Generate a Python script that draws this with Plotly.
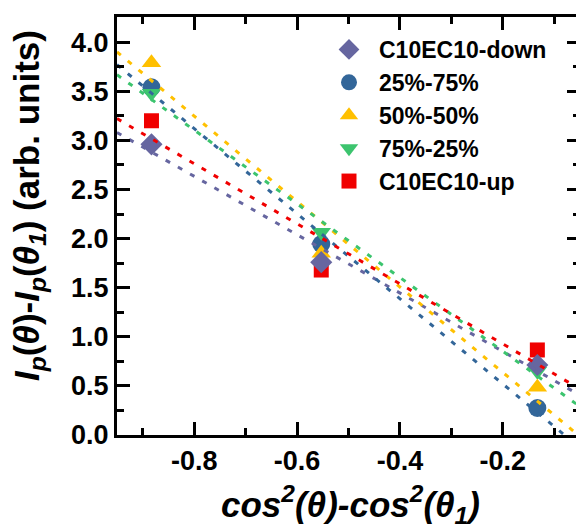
import numpy as np
import plotly.graph_objects as go

# ---- data ----
x_vals = [-0.883, -0.553, -0.133]
names = ["C10EC10-down", "25%-75%", "50%-50%", "75%-25%", "C10EC10-up"]
down_vals = [2.96, 1.76, 0.713]
p25_vals = [3.54, 1.945, 0.275]
p50_vals = [3.79, 1.85, 0.487]
p75_vals = [3.48, 2.065, 0.65]
up_vals = [3.20, 1.68, 0.866]
fit_span = [-0.95, -0.05]
x_tick_vals = [-0.8, -0.6, -0.4, -0.2]
x_tick_text = ["-0.8", "-0.6", "-0.4", "-0.2"]

colors = {"C10EC10-down": "#6666A0", "25%-75%": "#336699", "50%-50%": "#FFC000",
          "75%-25%": "#3CC46E", "C10EC10-up": "#F00000"}
symbols = {"C10EC10-down": "diamond", "25%-75%": "circle", "50%-50%": "triangle-up",
           "75%-25%": "triangle-down", "C10EC10-up": "square"}
sizes = {"C10EC10-down": 17, "25%-75%": 18, "50%-50%": 17, "75%-25%": 17, "C10EC10-up": 15}
values = {"C10EC10-down": down_vals, "25%-75%": p25_vals, "50%-50%": p50_vals,
          "75%-25%": p75_vals, "C10EC10-up": up_vals}
legend_rank = {n: i for i, n in enumerate(names)}
draw_order = ["25%-75%", "75%-25%", "50%-50%", "C10EC10-up", "C10EC10-down"]

FONT = "Liberation Sans, Arial"
fig = go.Figure()

for n in draw_order:
    fig.add_trace(go.Scatter(
        x=x_vals, y=values[n], mode="markers", name=n,
        legendrank=legend_rank[n] + 1,
        marker=dict(symbol=symbols[n], size=sizes[n], color=colors[n], line=dict(width=0)),
    ))

for n in names:
    k, b = np.polyfit(x_vals, values[n], 1)
    fx = np.array(fit_span)
    fig.add_trace(go.Scatter(
        x=fx, y=k * fx + b, mode="lines", showlegend=False, hoverinfo="skip",
        line=dict(color=colors[n], width=3, dash="5px,9px"),
    ))

# dummy trace for right-side ticks
fig.add_trace(go.Scatter(x=[None], y=[None], yaxis="y2", showlegend=False))

L, R, T, B = 117, 0, 17, 89
W, H = 576, 524
pw = W - L - R
ph = H - T - B

def px_x(p):
    return (p - L) / pw

def px_y(p):
    return (H - B - p) / ph

axis_common = dict(
    showgrid=False, zeroline=False, showline=True, linecolor="black", linewidth=3,
    ticks="inside", ticklen=13, tickwidth=3, tickcolor="black",
    tickfont=dict(family=FONT, size=27, color="black", weight="bold"),
)

fig.update_layout(
    width=W, height=H,
    margin=dict(l=L, r=R, t=T, b=B, pad=0),
    paper_bgcolor="white", plot_bgcolor="white",
    showlegend=True,
    legend=dict(
        x=px_x(319), y=px_y(28), xanchor="left", yanchor="top",
        font=dict(family=FONT, size=23, color="black", weight="bold"),
        bgcolor="rgba(0,0,0,0)", borderwidth=0, itemsizing="trace", itemwidth=50,
        tracegroupgap=0,
    ),
    xaxis=dict(
        range=[-0.95, -0.95 + pw / 514.5], tickvals=x_tick_vals, ticktext=x_tick_text,
        mirror="ticks",
        minor=dict(ticks="inside", ticklen=7, tickwidth=3, tickcolor="black", dtick=0.1, tick0=0),
        **axis_common,
    ),
    yaxis=dict(
        range=[0, ph / 98.2], dtick=0.5, tick0=0, tickformat=".1f", mirror=False,
        minor=dict(ticks="inside", ticklen=7, tickwidth=3, tickcolor="black", dtick=0.25, tick0=0),
        **axis_common,
    ),
    yaxis2=dict(
        overlaying="y", side="right", matches="y", showgrid=False, zeroline=False,
        showline=False, showticklabels=False, ticks="inside", ticklen=9, tickwidth=3,
        tickcolor="black", dtick=0.5, tick0=0,
        minor=dict(ticks="inside", ticklen=3, tickwidth=3, tickcolor="black", dtick=0.25, tick0=0),
    ),
    annotations=[
        dict(
            text="<b><i>cos<sup>2</sup>(θ)-cos<sup>2</sup>(θ<sub>1</sub>)</i></b>",
            x=px_x(350), y=px_y(504), xref="paper", yref="paper",
            xanchor="center", yanchor="middle", showarrow=False,
            font=dict(family=FONT, size=35, color="black"),
        ),
        dict(
            text="<b><i>I</i><sub><i>p</i></sub>(<i>θ</i>)-<i>I</i><sub><i>p</i></sub>(<i>θ</i><sub><i>1</i></sub>) (arb. units)</b>",
            x=px_x(29), y=px_y(206), xref="paper", yref="paper", textangle=-90,
            xanchor="center", yanchor="middle", showarrow=False,
            font=dict(family=FONT, size=35, color="black"),
        ),
    ],
)

fig.write_html("out.html")
